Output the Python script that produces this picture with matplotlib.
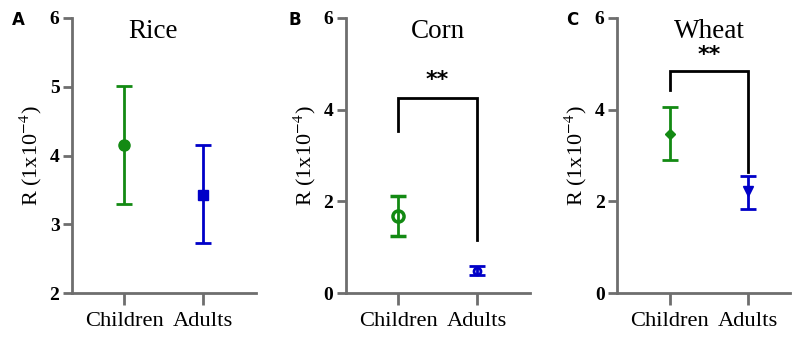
import numpy as np
import matplotlib
matplotlib.use("Agg")
import matplotlib.pyplot as plt

# データ
groups = ["Children", "Adults"]
panel_letters = ["A", "B", "C"]
titles = ["Rice", "Corn", "Wheat"]

rice_mean = [4.15, 3.43]
rice_low = [3.30, 2.73]
rice_high = [5.01, 4.15]

corn_mean = [1.67, 0.48]
corn_low = [1.24, 0.39]
corn_high = [2.11, 0.58]

wheat_mean = [3.47, 2.23]
wheat_low = [2.90, 1.83]
wheat_high = [4.05, 2.55]

y_limits = [(2, 6), (0, 6), (0, 6)]
y_ticks = [[2, 3, 4, 5, 6], [0, 2, 4, 6], [0, 2, 4, 6]]

# 有意差ブラケット: (左脚下端, 上端, 右脚下端, 星の高さ)
corn_bracket = (3.54, 4.26, 1.15, 4.65)
wheat_bracket = (4.43, 4.85, 2.65, 5.2)

green = "#138a13"
blue = "#0000c8"
spine_color = "#6e6e6e"
serif = "Liberation Serif"

fig = plt.figure(figsize=(7.92, 3.38), dpi=100)

# 軸の配置 (left, bottom, width, height) 図の比率で
axes_rects = [
    (72 / 792, 45 / 338, 184 / 792, 275 / 338),
    (346 / 792, 45 / 338, 184 / 792, 275 / 338),
    (617 / 792, 45 / 338, 173 / 792, 275 / 338),
]
x_limits = [(-0.66, 1.67), (-0.66, 1.67), (-0.68, 1.54)]
title_x = [0.36, 0.5, 0.5]
letter_x = [12, 288, 566]

means = [rice_mean, corn_mean, wheat_mean]
lows = [rice_low, corn_low, wheat_low]
highs = [rice_high, corn_high, wheat_high]

# マーカー設定 (子供, 大人)
marker_styles = [
    [dict(marker="o", ms=8, mfc=green, mec=green), dict(marker="s", ms=7.5, mfc=blue, mec=blue)],
    [dict(marker="o", ms=8, mfc="none", mec=green, mew=2.5), dict(marker="o", ms=5, mfc="none", mec=blue, mew=2)],
    [dict(marker="D", ms=5, mfc=green, mec=green), dict(marker="v", ms=7, mfc=blue, mec=blue)],
]
colors = [green, blue]
brackets = [None, corn_bracket, wheat_bracket]

for i in range(3):
    ax = fig.add_axes(axes_rects[i])
    x = np.arange(len(groups))
    for j in range(len(groups)):
        m = means[i][j]
        err = [[m - lows[i][j]], [highs[i][j] - m]]
        ax.errorbar(x[j], m, yerr=err, color=colors[j], lw=2, capsize=5.5, capthick=2,
                    linestyle="none", **marker_styles[i][j], zorder=3)

    b = brackets[i]
    if b is not None:
        ax.plot([x[0], x[0], x[1], x[1]], [b[0], b[1], b[1], b[2]], color="black", lw=2,
                solid_joinstyle="miter", zorder=2)
        ax.text((x[0] + x[1]) / 2, b[3], "**", ha="center", va="center",
                fontsize=16, fontweight="bold", family="DejaVu Sans")

    ax.set_xlim(*x_limits[i])
    ax.set_ylim(*y_limits[i])
    ax.set_yticks(y_ticks[i])
    ax.set_xticks(x)
    ax.set_xticklabels(groups, family=serif, fontsize=16.2)
    for lab in ax.get_yticklabels():
        lab.set_family(serif)
        lab.set_fontweight("bold")
        lab.set_fontsize(14)
    ax.set_ylabel("R (1x10$^{-4}$)", family=serif, fontsize=16, labelpad=4)
    ax.yaxis.label.set_math_fontfamily("stix")
    # タイトル（Riceだけ少し左寄り）
    tx = x[0] + title_x[i] * (x[1] - x[0])
    ax.text(tx, 0.926, titles[i], transform=ax.get_xaxis_transform(), family=serif,
            fontsize=19.5, ha="center", va="baseline")

    for side in ["top", "right"]:
        ax.spines[side].set_visible(False)
    for side in ["left", "bottom"]:
        ax.spines[side].set_color(spine_color)
        ax.spines[side].set_linewidth(2)
    ax.tick_params(axis="y", colors=spine_color, width=2, length=6.5, labelcolor="black", pad=2.5)
    ax.tick_params(axis="x", colors=spine_color, width=2, length=8.5, labelcolor="black", pad=5)

    fig.text(letter_x[i] / 792, 1 - 20 / 338, panel_letters[i], fontsize=12,
             fontweight="bold", family="DejaVu Sans", ha="left", va="center")

fig.savefig("out.png", dpi=100)
